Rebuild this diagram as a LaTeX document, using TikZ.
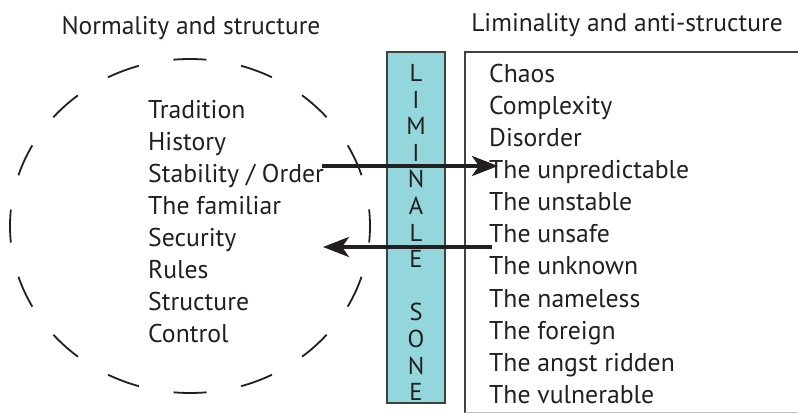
\documentclass[tikz,border=0pt]{standalone}
\usepackage{fontspec}
\setmainfont{PT Sans}
\usetikzlibrary{arrows.meta}
\definecolor{ink}{HTML}{231F20}
\definecolor{zonefill}{HTML}{93D6DC}
\definecolor{zoneedge}{HTML}{404040}
\tikzset{
  item/.style={anchor=base west, inner sep=0pt, text=ink, font=\fontsize{25.7}{30}\selectfont},
  title/.style={anchor=base, inner sep=0pt, text=ink, font=\fontsize{25.5}{30}\selectfont},
  letter/.style={anchor=base, inner sep=0pt, text=ink, font=\fontsize{24.5}{28}\selectfont},
  flow/.style={draw=ink, line width=4pt, -{Stealth[length=26pt,width=20pt,inset=7pt]}},
}
\begin{document}
\begin{tikzpicture}[x=1pt,y=-1pt]
\useasboundingbox (0,0) rectangle (798,414);
\clip (0,0) rectangle (798,414);

% headings
\node[title] (tleft) at (191,35) {Normality and structure};
\node[title] (tright) at (627,32) {Liminality and anti-structure};

% dashed boundary of the normal world
\draw[ink, line width=1.8pt, dash pattern=on 33pt off 35.16pt, dash phase=16.5pt]
  (190,226) ellipse [x radius=180, y radius=167];

% liminal zone
\draw[fill=zonefill, draw=zoneedge, line width=1.5pt] (387,52) rectangle (445,403);
\foreach \ch [count=\i from 0] in {L,I,M,I,N,A,L,E,{},S,O,N,E}
  \node[letter] (z\i) at (416,{81.5+26.6*\i}) {\ch};

% open box of the liminal world
\draw[ink!85, line width=1.2pt] (800,52) -- (465,52) -- (465,412.5);
\draw[ink!30, line width=1pt] (465,412.5) -- (800,412.5);

% normal world
\foreach \t [count=\i from 0] in {Tradition,History,Stability / Order,The familiar,Security,Rules,Structure,Control}
  \node[item] (n\i) at (148,{119+31.9*\i}) {\t};

% liminal world
\foreach \t [count=\i from 0] in {Chaos,Complexity,Disorder,The unpredictable,The unstable,The unsafe,The unknown,The nameless,The foreign,The angst ridden,The vulnerable}
  \node[item] (m\i) at (489,{83+32*\i}) {\t};

% crossings
\coordinate (outS) at (322,166);
\coordinate (outE) at (498,166);
\coordinate (backS) at (492,247);
\coordinate (backE) at (323,247);
\draw[flow] (outS) -- (outE);
\draw[flow] (backS) -- (backE);
\end{tikzpicture}
\end{document}
